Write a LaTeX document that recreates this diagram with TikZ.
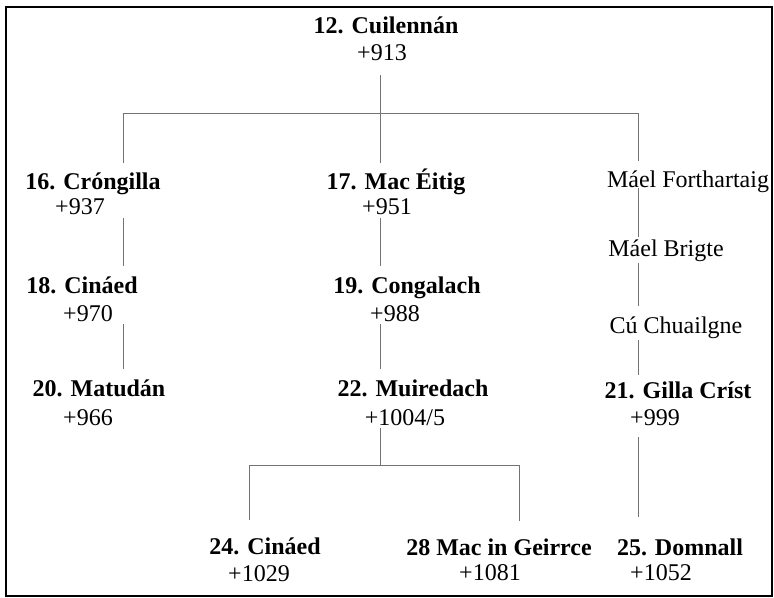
\documentclass[tikz,border=0pt]{standalone}
\usepackage{fontspec}
\setmainfont{Liberation Serif}
\usetikzlibrary{positioning}

\begin{document}
\begin{tikzpicture}[
	x=1bp,y=-1bp,
	every node/.style={font=\fontsize{24bp}{27bp}\selectfont},
	person/.style={anchor=base,inner xsep=0pt,inner ysep=9bp,text height=18bp,text depth=6bp,font=\fontsize{24bp}{27bp}\selectfont\bfseries},
	other/.style={person,font=\fontsize{24bp}{27bp}\selectfont},
	died/.style={anchor=base,inner xsep=0pt,inner ysep=3bp,text height=16bp,text depth=0pt},
	link/.style={draw=black!55,line width=0.9bp}
	]
	
	\useasboundingbox (0,0) rectangle (774,598);
	\draw[line width=1.6bp] (6,7) rectangle (772,596);
	
	% Capostipite
	\node[person] (n12) at (386,34) {12. Cuilennán};
	\node[died] (d12) at (382,61) {+913};
	
	% Ramo sinistro
	\node[person] (n16) at (93,190) {16. Cróngilla};
	\node[died] (d16) at (80,215) {+937};
	\node[person] (n18) at (82,293) {18. Cináed};
	\node[died] (d18) at (88,321) {+970};
	\node[person] (n20) at (99,396) {20. Matudán};
	\node[died] (d20) at (88,425) {+966};
	
	% Ramo centrale
	\node[person] (n17) at (396,190) {17. Mac Éitig};
	\node[died] (d17) at (387,215) {+951};
	\node[person] (n19) at (407,293) {19. Congalach};
	\node[died] (d19) at (395,321) {+988};
	\node[person] (n22) at (413,396) {22. Muiredach};
	\node[died] (d22) at (405,425) {+1004/5};
	
	% Ramo destro
	\node[other] (mf) at (688,188) {Máel Forthartaig};
	\node[other] (mb) at (666,256) {Máel Brigte};
	\node[other] (cc) at (676,333) {Cú Chuailgne};
	\node[person] (n21) at (678,398) {21. Gilla Críst};
	\node[died] (d21) at (655,425) {+999};
	
	% Ultima generazione
	\node[person] (n24) at (265,554) {24. Cináed};
	\node[died] (d24) at (259,581) {+1029};
	\node[person] (n28) at (499,555) {28 Mac in Geirrce};
	\node[died] (d28) at (490,580) {+1081};
	\node[person] (n25) at (680,555) {25. Domnall};
	\node[died] (d25) at (661,580) {+1052};
	
	% Punti di diramazione
	\coordinate (top) at (380,113);
	\coordinate (busA) at (123,113);
	\coordinate (busC) at (638,113);
	\coordinate (mid) at (380,465);
	\coordinate (busL) at (249,465);
	\coordinate (busR) at (519,465);
	
	% Linee
	\draw[link,shorten <=11bp] (d12.south -| top) -- (top);
	\draw[link] (n16.north -| busA) -- (busA) -- (busC) -- (mf.north -| busC);
	\draw[link] (top) -- (n17.north -| top);
	
	\draw[link] (d16.south -| busA) -- (n18.north -| busA);
	\draw[link] (d18.south -| busA) -- (n20.north -| busA);
	
	\draw[link] (d17.south -| top) -- (n19.north -| top);
	\draw[link] (d19.south -| top) -- (n22.north -| top);
	
	\draw[link,shorten <=-15bp,shorten >=-8bp] (mf.south -| busC) -- (mb.north -| busC);
	\draw[link,shorten <=-8bp] (mb.south -| busC) -- (cc.north -| busC);
	\draw[link,shorten <=-8bp,shorten >=-4bp] (cc.south -| busC) -- (n21.north -| busC);
	\draw[link,shorten <=9bp,shorten >=11bp] (d21.south -| busC) -- (n25.north -| busC);
	
	\draw[link] (d22.south -| mid) -- (mid);
	\draw[link,shorten <=7bp,shorten >=7bp] (n24.north -| busL) -- (busL) -- (busR) -- (n28.north -| busR);
	
\end{tikzpicture}
\end{document}
